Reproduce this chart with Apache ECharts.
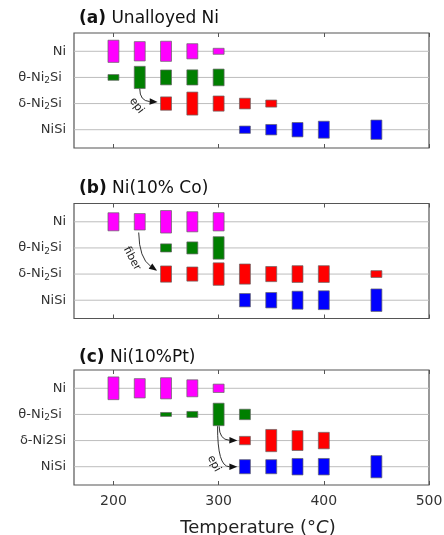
<!DOCTYPE html>
<html><head><meta charset="utf-8">
<script src="https://cdn.jsdelivr.net/npm/echarts@6/dist/echarts.min.js"></script>
<style>html,body{margin:0;padding:0;background:#fff}#c{width:444px;height:535px}</style>
</head><body><div id="c"></div>
<script>
// ---- data ----
const temps = [200,225,250,275,300,325,350,375,400,450];
const rowValues = [4,3,2,1];
const labelsAB = ['Ni','θ-Ni{s|2}Si ','δ-Ni{s|2}Si ','NiSi'];
const labelsC  = ['Ni','θ-Ni{s|2}Si ','δ-Ni2Si','NiSi'];
const xTicks = [200,300,400,500];
const titles = ['{b|(a)} Unalloyed Ni','{b|(b)} Ni(10% Co)','{b|(c)} Ni(10%Pt)'];
// bar heights in row-spacing units (null = phase absent)
const aNi    = [0.85,0.74,0.77,0.58,0.23,null,null,null,null,null];
const aTheta = [0.22,0.85,0.57,0.58,0.64,null,null,null,null,null];
const aDelta = [null,null,0.51,0.88,0.58,0.41,0.27,null,null,null];
const aNiSi  = [null,null,null,null,null,0.28,0.40,0.55,0.65,0.74];
const bNi    = [0.69,0.63,0.86,0.77,0.70,null,null,null,null,null];
const bTheta = [null,null,0.31,0.46,0.86,null,null,null,null,null];
const bDelta = [null,null,0.62,0.54,0.86,0.77,0.58,0.64,0.64,0.26];
const bNiSi  = [null,null,null,null,null,0.51,0.59,0.69,0.72,0.86];
const cNi    = [0.87,0.74,0.81,0.65,0.32,null,null,null,null,null];
const cTheta = [null,null,0.15,0.23,0.86,0.40,null,null,null,null];
const cDelta = [null,null,null,null,null,0.32,0.85,0.76,0.63,null];
const cNiSi  = [null,null,null,null,null,0.54,0.54,0.63,0.63,0.85];
// annotation arrows: [x0,y0, ctrlX,ctrlY, x1,y1]
const arrowsA = [[225,2.57, 225,2.1, 242,2.06]];
const arrowsB = [[224,3.59, 224.5,2.6, 241.5,2.13]];
const arrowsC = [[300.5,2.55, 300.6,2.03, 317.8,2.0],[299,2.55, 298.8,1.0, 317.8,1.0]];
// annotation notes: [x, y, angleDeg, text]
const notesA = [[222,1.92,-52,'epi']];
const notesB = [[217.6,2.59,-62,'fiber']];
const notesC = [[295.5,1.12,-62,'epi']];

// ---- chart ----
const FONT = 'DejaVu Sans';
const colors = ['#ff00ff','#007f00','#ff0000','#0000ff'];
const panels = [
  {series:[aNi,aTheta,aDelta,aNiSi], labels:labelsAB, arrows:arrowsA, notes:notesA, top:33, titleTop:10},
  {series:[bNi,bTheta,bDelta,bNiSi], labels:labelsAB, arrows:arrowsB, notes:notesB, top:203.5, titleTop:180},
  {series:[cNi,cTheta,cDelta,cNiSi], labels:labelsC, arrows:arrowsC, notes:notesC, top:370, titleTop:349}
];
const HALF_W = 5.2;
const grid=[], xAxis=[], yAxis=[], series=[], title=[];
panels.forEach((p,i)=>{
  grid.push({left:74, width:355, top:p.top, height:115, show:true, borderColor:'#555', borderWidth:1.2,
    backgroundColor:'transparent', outerBoundsMode:'none', containLabel:false});
  title.push({text:titles[i], left:79, top:p.titleTop, padding:0,
    textStyle:{fontFamily:FONT, fontSize:17, fontWeight:'normal', color:'#111',
      rich:{b:{fontFamily:FONT, fontSize:17, fontWeight:'bold', color:'#111'}}}});
  const last = i===2;
  xAxis.push({type:'value', gridIndex:i, min:162.5, max:500, position:'bottom',
    axisLine:{show:false}, splitLine:{show:false},
    axisTick:{show:true, inside:true, length:4, customValues:xTicks, lineStyle:{color:'#555'}},
    axisLabel:{show:last, customValues:xTicks, fontFamily:FONT, fontSize:14, color:'#333', margin:9},
    name: last ? 'Temperature (°{i|C})' : '', nameLocation:'middle', nameGap:34,
    nameTextStyle:{fontFamily:FONT, fontSize:18, color:'#222', padding:[0,0,0,13],
      rich:{i:{fontFamily:FONT, fontSize:18, fontStyle:'italic', color:'#222'}}}
  });
  xAxis.push({type:'value', gridIndex:i, min:162.5, max:500, position:'top',
    axisLine:{show:false}, splitLine:{show:false}, axisLabel:{show:false},
    axisTick:{show:true, inside:true, length:4, customValues:xTicks, lineStyle:{color:'#555'}}});
  const labs = p.labels;
  yAxis.push({type:'value', gridIndex:i, min:0.3, max:4.7,
    axisLine:{show:false}, axisTick:{show:false}, splitLine:{show:false},
    axisLabel:{customValues:rowValues, margin:8, fontFamily:FONT, fontSize:13, color:'#333',
      formatter:(v)=>labs[rowValues.indexOf(Math.round(v))] || '',
      rich:{s:{fontFamily:FONT, fontSize:9, color:'#333', padding:[7,0,0,0]}}}});
  // row lines
  series.push({type:'custom', xAxisIndex:2*i, yAxisIndex:i, z:1, silent:true,
    data:rowValues.map(v=>[0,v]),
    renderItem:(params,api)=>{
      const cs = params.coordSys; const y = api.coord([200, api.value(1)])[1];
      return {type:'line', shape:{x1:cs.x, y1:y, x2:cs.x+cs.width, y2:y}, style:{stroke:'#bdbdbd', lineWidth:1}};
    }});
  // bars
  p.series.forEach((arr,k)=>{
    const data=[]; arr.forEach((h,j)=>{ if(h!=null) data.push([temps[j], rowValues[k], h]); });
    series.push({type:'custom', xAxisIndex:2*i, yAxisIndex:i, z:3, silent:true, data,
      itemStyle:{color:colors[k]},
      renderItem:(params,api)=>{
        const x=api.value(0), y=api.value(1), h=api.value(2);
        const a=api.coord([x-HALF_W, y+h/2]), b=api.coord([x+HALF_W, y-h/2]);
        return {type:'rect', shape:{x:a[0], y:a[1], width:b[0]-a[0], height:b[1]-a[1]},
          style:{fill:colors[k], stroke:'#666', lineWidth:0.7}};
      }});
  });
  // arrows
  series.push({type:'custom', xAxisIndex:2*i, yAxisIndex:i, z:4, silent:true, data:p.arrows,
    renderItem:(params,api)=>{
      const s=api.coord([api.value(0),api.value(1)]), c=api.coord([api.value(2),api.value(3)]), e=api.coord([api.value(4),api.value(5)]);
      const dx=e[0]-c[0], dy=e[1]-c[1], L=Math.hypot(dx,dy), ux=dx/L, uy=dy/L;
      const HL=8, HW=3.2;
      const bx=e[0]-ux*HL, by=e[1]-uy*HL;
      return {type:'group', children:[
        {type:'bezierCurve', shape:{x1:s[0], y1:s[1], cpx1:c[0], cpy1:c[1], x2:bx, y2:by}, style:{stroke:'#333', lineWidth:1, fill:null}},
        {type:'polygon', shape:{points:[[e[0],e[1]],[bx-uy*HW,by+ux*HW],[bx+uy*HW,by-ux*HW]]}, style:{fill:'#111'}}
      ]};
    }});
  // notes
  series.push({type:'custom', xAxisIndex:2*i, yAxisIndex:i, z:4, silent:true, data:p.notes,
    renderItem:(params,api)=>{
      const n=p.notes[params.dataIndex];
      const q=api.coord([n[0],n[1]]);
      return {type:'text', x:q[0], y:q[1], rotation:n[2]*Math.PI/180,
        style:{text:n[3], fontFamily:FONT, fontSize:11, fill:'#222', align:'center', verticalAlign:'middle'}};
    }});
});
const chart = echarts.init(document.getElementById('c'), null, {renderer:'canvas'});
chart.setOption({animation:false, backgroundColor:'#fff', title, grid, xAxis, yAxis, series});
</script></body></html>
